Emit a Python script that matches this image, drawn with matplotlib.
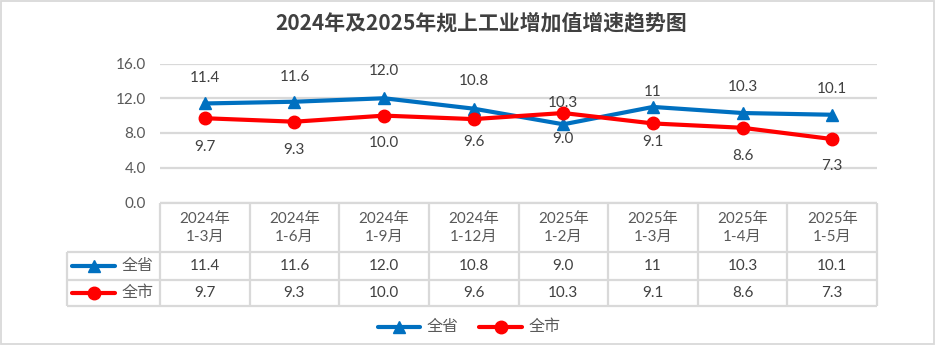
import matplotlib
matplotlib.use("Agg")
import matplotlib.pyplot as plt
from matplotlib import transforms
from matplotlib.patches import Rectangle

plt.rcParams['font.family'] = ['Lato', 'Noto Sans CJK SC', 'DejaVu Sans']

# Data
title = "2024年及2025年规上工业增加值增速趋势图"
periods = ["2024年\n1-3月", "2024年\n1-6月", "2024年\n1-9月", "2024年\n1-12月",
           "2025年\n1-2月", "2025年\n1-3月", "2025年\n1-4月", "2025年\n1-5月"]
province = [11.4, 11.6, 12.0, 10.8, 9.0, 11.0, 10.3, 10.1]
province_txt = ["11.4", "11.6", "12.0", "10.8", "9.0", "11", "10.3", "10.1"]
city = [9.7, 9.3, 10.0, 9.6, 10.3, 9.1, 8.6, 7.3]
city_txt = ["9.7", "9.3", "10.0", "9.6", "10.3", "9.1", "8.6", "7.3"]
names = ["全省", "全市"]
yticks = [0, 4, 8, 12, 16]

# label offsets in pixels (positive = above point)
prov_off = [25, 25, 27, 28, -15, 15, 26, 26]
city_off = [-29, -28, -27, -23, 10, -19, -28, -27]

BLUE = "#0070C0"
RED = "#FF0000"
GRID = "#D9D9D9"
TXT = "#595959"
W, H = 936, 346

fig = plt.figure(figsize=(W / 100, H / 100), dpi=100)

# overlay in pixel coords (y down)
ov = fig.add_axes([0, 0, 1, 1])
ov.set_xlim(0, W)
ov.set_ylim(H, 0)
ov.axis("off")
ov.add_patch(Rectangle((1, 1), W - 3, H - 3, fill=False, ec=GRID, lw=1.3))

x0, x1 = 160, 877
y_top, y_bot = 63.5, 202.5
ax = fig.add_axes([x0 / W, 1 - y_bot / H, (x1 - x0) / W, (y_bot - y_top) / H])
ax.set_xlim(-0.5, len(periods) - 0.5)
ax.set_ylim(0, 16)
ax.set_yticks(yticks)
ax.set_yticklabels([f"{v:.1f}" for v in yticks])
ax.tick_params(axis="y", length=0, pad=10, labelsize=11, labelcolor=TXT)
ax.set_xticks([])
for s in ax.spines.values():
    s.set_visible(False)
ax.grid(axis="y", color=GRID, lw=1.6)
ax.set_axisbelow(True)
ax.patch.set_alpha(0)

xs = list(range(len(periods)))
ax.plot(xs, province, color=BLUE, lw=3, marker="^", ms=9, zorder=3)
ax.plot(xs, city, color=RED, lw=3, marker="o", ms=9, zorder=3)

for i in xs:
    ax.annotate(province_txt[i], (i, province[i]), xytext=(0, prov_off[i] * 0.72),
                textcoords="offset points", ha="center", va="center",
                fontsize=11, color="#404040")
    ax.annotate(city_txt[i], (i, city[i]), xytext=(0, city_off[i] * 0.72),
                textcoords="offset points", ha="center", va="center",
                fontsize=11, color="#404040")

# data table below
tr = transforms.blended_transform_factory(ax.transData, ov.transData)
tl_x = 67
r0, r1, r2, r3 = 202.5, 252, 280, 305.5
lc = dict(color=GRID, lw=1.6, solid_capstyle="butt")
for k in range(len(periods) + 1):
    ov.plot([k - 0.5, k - 0.5], [r0, r3], transform=tr, **lc)
ov.plot([x0, x1], [r0, r0], **lc)
for yy in (r1, r2, r3):
    ov.plot([tl_x, x1], [yy, yy], **lc)
ov.plot([tl_x, tl_x], [r1, r3], **lc)

for i in xs:
    ov.text(i, (r0 + r1) / 2 + 1, periods[i], transform=tr, ha="center", va="center",
            fontsize=11, color=TXT, linespacing=1.35)
    ov.text(i, (r1 + r2) / 2, province_txt[i], transform=tr, ha="center", va="center",
            fontsize=11, color="#404040")
    ov.text(i, (r2 + r3) / 2, city_txt[i], transform=tr, ha="center", va="center",
            fontsize=11, color="#404040")

# legend keys in the table and at the bottom
def key(xa, xb, y, color, marker, label):
    ov.plot([xa, xb], [y, y], color=color, lw=3, solid_capstyle="round")
    ov.plot([(xa + xb) / 2], [y], color=color, marker=marker, ms=9, ls="none")
    ov.text(xb + 7, y, label, ha="left", va="center", fontsize=11.5, color=TXT)

key(72, 115, (r1 + r2) / 2, BLUE, "^", names[0])
key(72, 115, (r2 + r3) / 2, RED, "o", names[1])
key(378, 420, 327, BLUE, "^", names[0])
key(479, 522, 327, RED, "o", names[1])

fig.text(481 / W, 1 - 23 / H, title, ha="center", va="center", fontsize=15,
         fontweight="bold", color="#404040", family=['Noto Sans CJK SC', 'DejaVu Sans'])

fig.savefig("out.png", dpi=100)
